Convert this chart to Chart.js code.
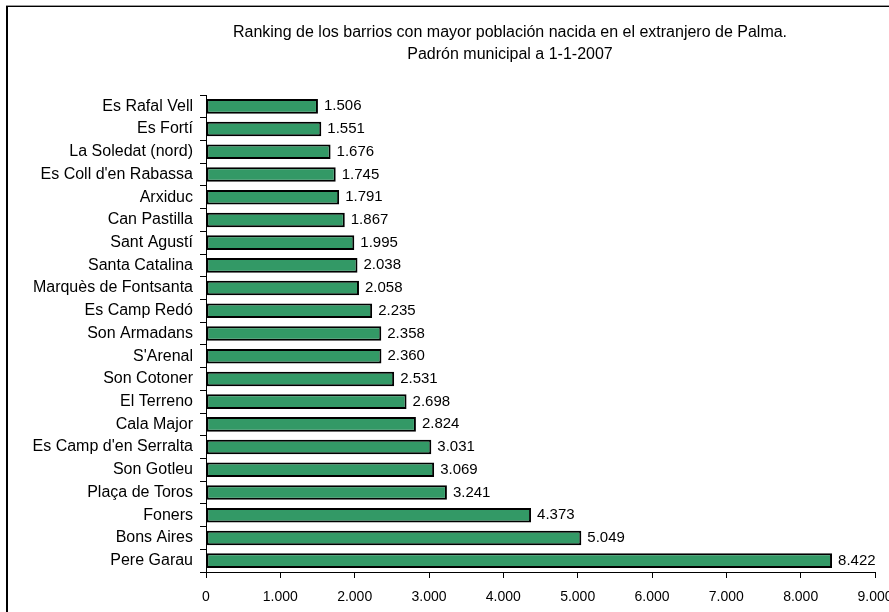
<!DOCTYPE html>
<html>
<head>
<meta charset="utf-8">
<script src="https://cdn.jsdelivr.net/npm/chart.js@4.4.1/dist/chart.umd.min.js"></script>
<style>
  html, body { margin: 0; padding: 0; background: #fff; overflow: hidden; }
  body { width: 889px; height: 612px; position: relative; }
  #wrap { position: absolute; left: 0; top: 0; width: 1020px; height: 612px; }
  #frameTop { position: absolute; left: 6px; top: 5px; width: 900px; height: 1px; background: #999; }
  #frameTop2 { position: absolute; left: 6px; top: 6px; width: 900px; height: 1px; background: #000; }
  #frameLeft { position: absolute; left: 6px; top: 6px; width: 2px; height: 620px; background: #000; }
</style>
</head>
<body>
<div id="wrap"><canvas id="c" width="1020" height="612"></canvas></div>
<div id="frameTop"></div><div id="frameTop2"></div><div id="frameLeft"></div>
<script>
const titleLines = ["Ranking de los barrios con mayor población nacida en el extranjero de Palma.", "Padrón municipal a 1-1-2007"];
const barrios = ["Es Rafal Vell", "Es Fortí", "La Soledat (nord)", "Es Coll d'en Rabassa", "Arxiduc", "Can Pastilla", "Sant Agustí", "Santa Catalina", "Marquès de Fontsanta", "Es Camp Redó", "Son Armadans", "S'Arenal", "Son Cotoner", "El Terreno", "Cala Major", "Es Camp d'en Serralta", "Son Gotleu", "Plaça de Toros", "Foners", "Bons Aires", "Pere Garau"];
const poblacion = [1506, 1551, 1676, 1745, 1791, 1867, 1995, 2038, 2058, 2235, 2358, 2360, 2531, 2698, 2824, 3031, 3069, 3241, 4373, 5049, 8422];
const xMin = 0, xMax = 9000, xStep = 1000;

function fmt(v) { return String(Math.round(v)).replace(/\B(?=(\d{3})+(?!\d))/g, '.'); }

const FONT = "'Liberation Sans', Arial, sans-serif";

const valueLabels = {
  id: 'valueLabels',
  afterDatasetsDraw(chart) {
    const ctx = chart.ctx;
    const meta = chart.getDatasetMeta(0);
    ctx.save();
    ctx.font = "15px " + FONT;
    ctx.fillStyle = '#000';
    ctx.textAlign = 'left';
    ctx.textBaseline = 'middle';
    meta.data.forEach((bar, i) => {
      ctx.fillText(fmt(chart.data.datasets[0].data[i]), bar.x + 6, bar.y);
    });
    ctx.restore();
  }
};

new Chart(document.getElementById('c'), {
  type: 'bar',
  data: {
    labels: barrios,
    datasets: [{
      data: poblacion,
      backgroundColor: '#339966',
      borderColor: '#000',
      borderWidth: 2,
      borderSkipped: false,
      categoryPercentage: 1,
      barPercentage: 0.64
    }]
  },
  options: {
    indexAxis: 'y',
    responsive: false,
    animation: false,
    layout: { padding: { left: 10, right: 10, top: 22, bottom: 0 } },
    plugins: {
      legend: { display: false },
      tooltip: { enabled: false },
      title: {
        display: true,
        text: titleLines,
        color: '#000',
        font: { family: FONT, size: 16, weight: 'normal', lineHeight: 1.375 },
        padding: { top: 0, bottom: 29 }
      }
    },
    scales: {
      x: {
        min: xMin, max: xMax,
        border: { display: true, color: '#000', width: 1 },
        grid: { display: true, drawOnChartArea: false, drawTicks: true, tickLength: 6, color: '#000' },
        ticks: { stepSize: xStep, color: '#000', padding: 11, font: { family: FONT, size: 14 }, callback: (v) => fmt(v), maxRotation: 0 },
        afterFit: (s) => { s.height = 40; }
      },
      y: {
        border: { display: true, color: '#000', width: 1 },
        grid: { display: true, drawOnChartArea: false, drawTicks: true, tickLength: 6, color: '#000', offset: true },
        ticks: { color: '#000', padding: 7, font: { family: FONT, size: 16 }, autoSkip: false },
        afterFit: (s) => { s.width = 196; }
      },
      spacer: {
        type: 'linear',
        axis: 'y',
        position: 'right',
        display: true,
        border: { display: false },
        grid: { display: false, drawTicks: false },
        ticks: { display: false },
        afterFit: (s) => { s.width = 135; }
      }
    }
  },
  plugins: [valueLabels]
});
</script>
</body>
</html>
